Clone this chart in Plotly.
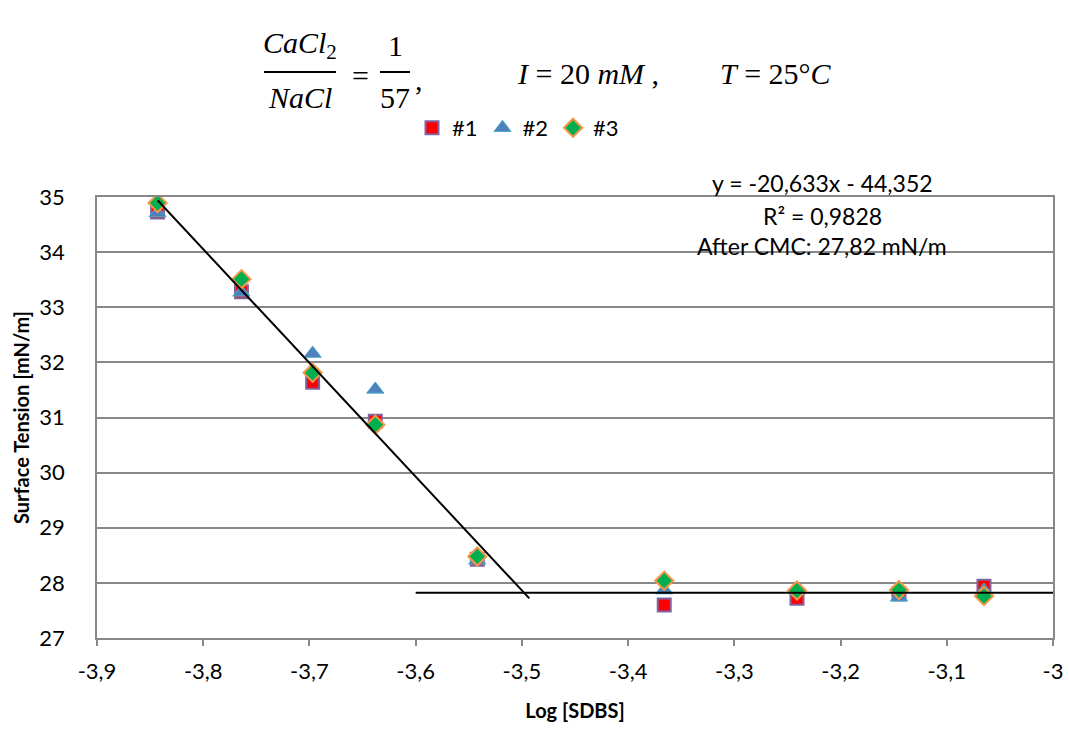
import plotly.graph_objects as go

# Log of SDBS concentration for each measurement point
log_sdbs = [-3.843, -3.764, -3.697, -3.638, -3.542, -3.366, -3.241, -3.145, -3.065]

# Surface tension [mN/m] for the three runs
run1 = [34.73, 33.28, 31.64, 30.93, 28.43, 27.60, 27.72, 27.80, 27.94]
run2 = [34.71, 33.27, 32.16, 31.51, 28.41, 27.87, 27.87, 27.74, 27.86]
run3 = [34.89, 33.51, 31.81, 30.87, 28.48, 28.04, 27.86, 27.87, 27.76]

series_names = ["#1", "#2", "#3"]

# Linear fit below the CMC and plateau value above it
fit_slope = -20.633
fit_intercept = -44.352
fit_x_range = [-3.843, -3.493]
cmc_plateau = 27.82
plateau_x_range = [-3.6, -3.0]

x_ticks = [-3.9, -3.8, -3.7, -3.6, -3.5, -3.4, -3.3, -3.2, -3.1, -3.0]
x_tick_labels = ["-3,9", "-3,8", "-3,7", "-3,6", "-3,5", "-3,4", "-3,3", "-3,2", "-3,1", "-3"]
y_ticks = [27, 28, 29, 30, 31, 32, 33, 34, 35]

W, H = 1069, 729
L, R, T, B = 97, 16, 197, 91
PW, PH = W - L - R, H - T - B

def px(x):
    return (x - L) / PW

def py(y):
    return (H - B - y) / PH

FONT = "Lato"
GRID = "#888888"

fig = go.Figure()

fig.add_trace(go.Scatter(
    x=log_sdbs, y=run1, mode="markers", name=series_names[0],
    marker=dict(symbol="square", size=13, color="#FF0000",
                line=dict(color="#8064A2", width=2)),
))
fig.add_trace(go.Scatter(
    x=log_sdbs, y=run2, mode="markers", name=series_names[1],
    marker=dict(symbol="triangle-up", size=15, color="#4F81BD",
                line=dict(color="#4BACC6", width=1)),
))
fig.add_trace(go.Scatter(
    x=log_sdbs, y=run3, mode="markers", name=series_names[2],
    marker=dict(symbol="diamond", size=14, color="#00B050",
                line=dict(color="#F79646", width=2)),
))

fit_y = [fit_slope * x + fit_intercept for x in fit_x_range]
fig.add_trace(go.Scatter(
    x=fit_x_range, y=fit_y, mode="lines", showlegend=False,
    line=dict(color="black", width=2), hoverinfo="skip",
))
fig.add_trace(go.Scatter(
    x=plateau_x_range, y=[cmc_plateau, cmc_plateau], mode="lines", showlegend=False,
    line=dict(color="black", width=2), hoverinfo="skip",
))

fig.update_layout(
    width=W, height=H,
    margin=dict(l=L, r=R, t=T, b=B, pad=0),
    paper_bgcolor="white", plot_bgcolor="white",
    font=dict(family=FONT, size=22, color="black"),
    showlegend=True,
    legend=dict(orientation="h", x=px(518), y=py(128), xanchor="center", yanchor="middle",
                font=dict(family=FONT, size=22), itemwidth=30, tracegroupgap=0,
                bgcolor="rgba(0,0,0,0)"),
    xaxis=dict(range=[-3.9, -3.0], tickvals=x_ticks, ticktext=x_tick_labels,
               automargin=False,
               showgrid=False, zeroline=False, showline=True, linecolor=GRID, linewidth=1.5,
               mirror=True, ticks="outside", ticklen=6, tickcolor=GRID, tickwidth=1.5,
               ticklabelstandoff=7,
               tickfont=dict(family=FONT, size=22),
               title=dict(text="<b>Log [SDBS]</b>", font=dict(family=FONT, size=20), standoff=21)),
    yaxis=dict(range=[27, 35], tickvals=y_ticks, automargin=False,
               showgrid=True, gridcolor=GRID, gridwidth=1.5,
               zeroline=False, showline=True, linecolor=GRID, linewidth=1.5,
               mirror=True, ticks="", ticklabelstandoff=26,
               tickfont=dict(family=FONT, size=22),
               title=dict(text="<b>Surface Tension [mN/m]</b>", font=dict(family=FONT, size=20),
                          standoff=4)),
)

# Fit equation annotation
fit_lines = ["y = -20,633x - 44,352", "R² = 0,9828", "After CMC: 27,82 mN/m"]
for text, ypx in zip(fit_lines, [183, 216, 246]):
    fig.add_annotation(x=px(822), y=py(ypx), xref="paper", yref="paper",
                       text=text, showarrow=False, xanchor="center", yanchor="middle",
                       font=dict(family=FONT, size=23, color="black"))

# Title built from text pieces and fraction bars
SERIF = "Liberation Serif"
title_parts = [
    ("<i>CaCl</i><sub>2</sub>", 300, 45),
    ("<i>NaCl</i>", 300, 98),
    ("=", 360, 75),
    ("1", 395, 45),
    ("57", 395, 98),
    (",", 419, 80),
    ("<i>I</i> = 20 <i>mM</i> ,", 588, 73),
    ("<i>T</i> = 25°<i>C</i>", 776, 73),
]
for text, xp, yp in title_parts:
    fig.add_annotation(x=px(xp), y=py(yp), xref="paper", yref="paper",
                       text=text, showarrow=False, xanchor="center", yanchor="middle",
                       font=dict(family=SERIF, size=30, color="black"))

for x0, x1 in [(264, 336), (380, 410)]:
    fig.add_shape(type="line", xref="paper", yref="paper",
                  x0=px(x0), x1=px(x1), y0=py(72), y1=py(72),
                  line=dict(color="black", width=2))

fig.write_html("out.html")
